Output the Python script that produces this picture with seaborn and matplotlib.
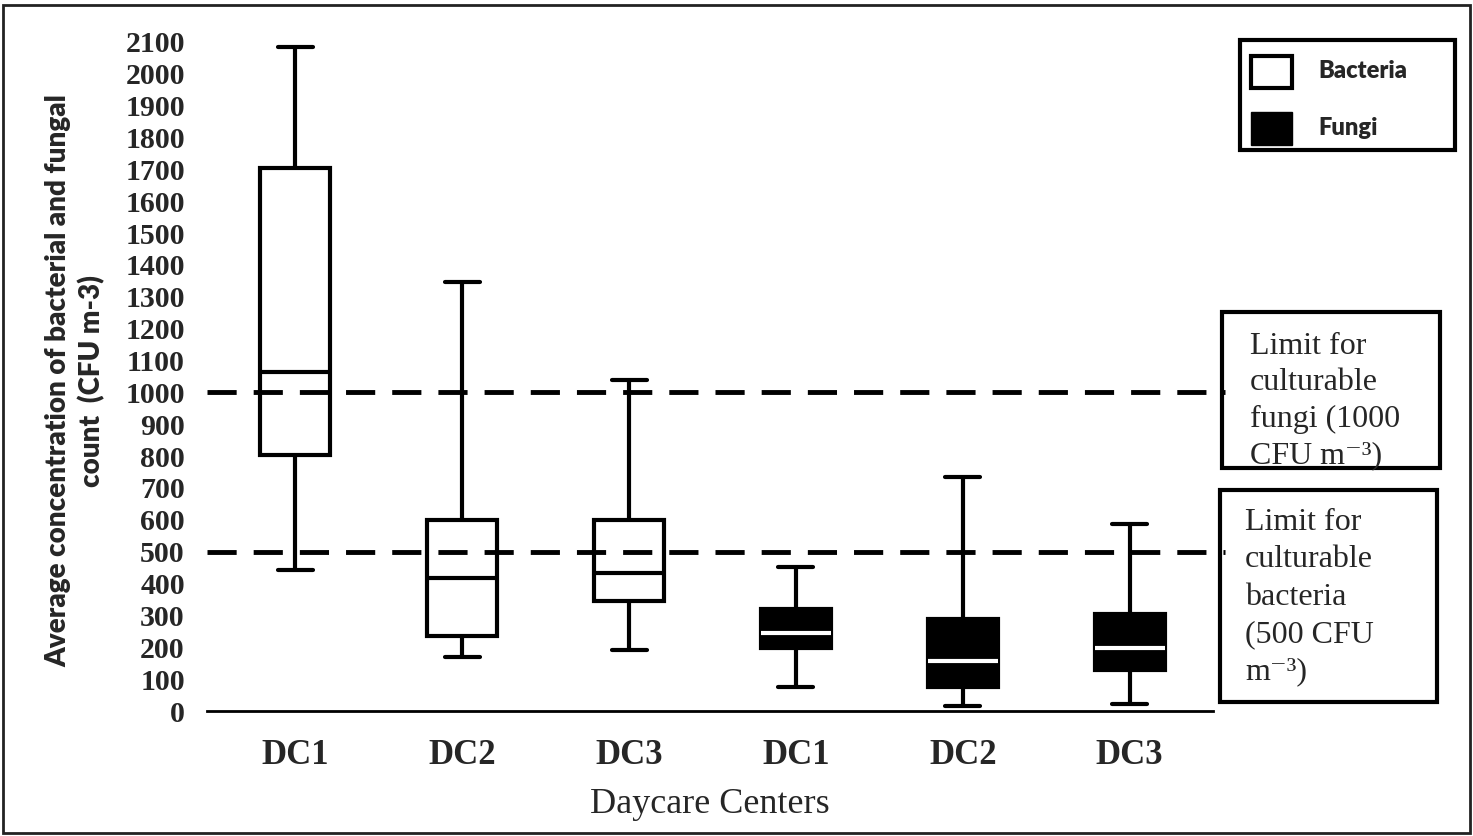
"""Box plot: bacterial and fungal counts in daycare centers"""
import pandas as pd
import matplotlib.pyplot as plt
import seaborn as sns
from matplotlib.patches import Rectangle

# chart values (min, Q1, median, Q3, max)
slots = ['B-DC1', 'B-DC2', 'B-DC3', 'F-DC1', 'F-DC2', 'F-DC3']
tick_labels = ['DC1', 'DC2', 'DC3', 'DC1', 'DC2', 'DC3']

bacteria_min = [443, 170, 192]
bacteria_q1 = [802, 236, 346]
bacteria_med = [1063, 418, 434]
bacteria_q3 = [1704, 600, 600]
bacteria_max = [2085, 1346, 1038]

fungi_min = [75, 16, 22]
fungi_q1 = [198, 75, 129]
fungi_med = [245, 157, 198]
fungi_q3 = [321, 289, 305]
fungi_max = [453, 736, 588]

limits = [1000, 500]
y_ticks = list(range(0, 2101, 100))

W, H = 1473, 836
SANS = ['Lato', 'DejaVu Sans']

sns.set_style('white')
plt.rcParams['font.family'] = ['Liberation Serif', 'DejaVu Serif']


def summary_frame(keys, mins, q1s, meds, q3s, maxs):
    rows = []
    for k, a, b, c, d, e in zip(keys, mins, q1s, meds, q3s, maxs):
        for v in (a, b, c, d, e):
            rows.append({'slot': k, 'value': v})
    return pd.DataFrame(rows)


bact_df = summary_frame(slots[:3], bacteria_min, bacteria_q1, bacteria_med, bacteria_q3, bacteria_max)
fungi_df = summary_frame(slots[3:], fungi_min, fungi_q1, fungi_med, fungi_q3, fungi_max)


def fx(x):
    return x / W


def fy(y):
    return 1 - y / H


fig = plt.figure(figsize=(W / 100, H / 100), dpi=100)
ax = fig.add_axes([fx(207), fy(711), fx(1213) - fx(207), fy(26) - fy(711)])

common = dict(x='slot', y='value', order=slots, width=0.42, whis=(0, 100),
              saturation=1, linewidth=3, showfliers=False, ax=ax)
sns.boxplot(data=bact_df, color='white', linecolor='black', **common)
sns.boxplot(data=fungi_df, color='black', linecolor='black',
            medianprops={'color': 'white', 'linewidth': 3}, **common)

# limit lines
for lim in limits:
    ax.axhline(lim, xmin=0, xmax=1.012, color='black', lw=3.5,
               dashes=(6, 3.5), clip_on=False, zorder=6)

ax.set_xlim(-0.53, 5.5)
ax.set_ylim(0, 2150)
ax.set_yticks(y_ticks)
ax.set_yticklabels([str(t) for t in y_ticks], fontsize=21.5, fontweight='bold')
ax.set_xticks(range(len(slots)))
ax.set_xticklabels(tick_labels, fontsize=25, fontweight='bold')
ax.tick_params(axis='y', length=0, pad=16)
ax.tick_params(axis='x', length=0, pad=20)
ax.set_xlabel('Daycare Centers', fontsize=26, labelpad=12)
ax.set_ylabel('')

for s in ['left', 'top', 'right']:
    ax.spines[s].set_visible(False)
ax.spines['bottom'].set_linewidth(2)
ax.spines['bottom'].set_color('black')

# y label (condensed sans)
fig.text(fx(75), fy(381), 'Average concentration of bacterial and fungal\ncount  (CFU m-3)',
         rotation=90, ha='center', va='center', multialignment='center',
         fontsize=20, fontweight='heavy', family=SANS, linespacing=1.3)

# outer frame
fig.add_artist(Rectangle((fx(3), fy(833)), fx(1470) - fx(3), fy(5) - fy(833),
                         transform=fig.transFigure, fill=False, lw=2, ec='#222222'))

# legend box
fig.add_artist(Rectangle((fx(1240), fy(150)), fx(1455) - fx(1240), fy(40) - fy(150),
                         transform=fig.transFigure, fill=False, lw=3, ec='black'))
fig.add_artist(Rectangle((fx(1251), fy(88)), fx(1292) - fx(1251), fy(56) - fy(88),
                         transform=fig.transFigure, fc='white', lw=3, ec='black'))
fig.add_artist(Rectangle((fx(1251), fy(145)), fx(1292) - fx(1251), fy(112) - fy(145),
                         transform=fig.transFigure, fc='black', lw=1, ec='black'))
fig.text(fx(1318), fy(71), 'Bacteria', fontsize=17, fontweight='heavy', va='center', family=SANS)
fig.text(fx(1318), fy(128), 'Fungi', fontsize=17, fontweight='heavy', va='center', family=SANS)

# limit annotation boxes
fig.add_artist(Rectangle((fx(1222), fy(468)), fx(1440) - fx(1222), fy(312) - fy(468),
                         transform=fig.transFigure, fill=False, lw=3, ec='black'))
fig.text(fx(1250), fy(332), 'Limit for\nculturable\nfungi (1000\nCFU m\u207b\u00b3)',
         fontsize=23, va='top', ha='left', linespacing=1.33)

fig.add_artist(Rectangle((fx(1220), fy(702)), fx(1437) - fx(1220), fy(490) - fy(702),
                         transform=fig.transFigure, fill=False, lw=3, ec='black'))
fig.text(fx(1245), fy(508), 'Limit for\nculturable\nbacteria\n(500 CFU\nm\u207b\u00b3)',
         fontsize=23, va='top', ha='left', linespacing=1.38)

fig.savefig('out.png', dpi=100)
